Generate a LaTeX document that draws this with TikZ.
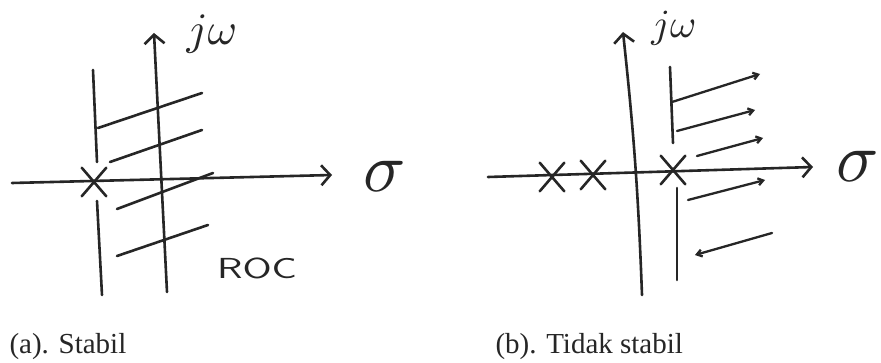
\documentclass[tikz,border=0pt]{standalone}
\usepackage{fontspec}
\setmainfont{Liberation Serif}
\usetikzlibrary{arrows.meta,shapes.misc}
\begin{document}
\begin{tikzpicture}[x=1pt,y=-1pt,line cap=round,line join=round,
  ink/.style={line width=2.6pt,draw=black!85},
  axis/.style={ink,-{Straight Barb[length=9pt,width=20pt]}},
  hatcharrow/.style={ink,line width=2.3pt,-{Straight Barb[length=5pt,width=7pt]}},
  pole/.style={cross out,draw=black!85,line width=2.6pt,minimum width=22pt,minimum height=26pt,inner sep=0pt},
  caption/.style={anchor=base west,font=\fontsize{29}{34}\selectfont,text=black!85},
  hand/.style={text=black!85}]
\useasboundingbox (0,0) rectangle (881,363);
\fill[white] (0,0) rectangle (881,363);
% ---------- (a) ----------
\coordinate (aJb) at (167,292);
\coordinate (aJt) at (154,33);
\coordinate (aSl) at (12,183);
\coordinate (aSr) at (332,175);
\draw[axis] (aJb) -- (aJt);
\draw[axis] (aSl) -- (aSr);
\node[hand,scale=4.5] (aJw) at (212,34) {$j\omega$};
\node[hand,scale=7] (aSig) at (385,176) {$\sigma$};
\node[pole] (aX) at (94,182) {};
\coordinate (aB1) at (93,70);
\coordinate (aB2) at (97,162);
\coordinate (aB3) at (97,201);
\coordinate (aB4) at (102,295);
\draw[ink] (aB1) -- (aB2);
\draw[ink] (aB3) -- (aB4);
\coordinate (aH1a) at (98,128); \coordinate (aH1b) at (202,93);
\coordinate (aH2a) at (110,162); \coordinate (aH2b) at (202,130);
\coordinate (aH3a) at (117,209); \coordinate (aH3b) at (213,173);
\coordinate (aH4a) at (117,256); \coordinate (aH4b) at (208,225);
\draw[ink] (aH1a) -- (aH1b);
\draw[ink] (aH2a) -- (aH2b);
\draw[ink] (aH3a) -- (aH3b);
\draw[ink] (aH4a) -- (aH4b);
\node[hand,xscale=1.45,font=\sffamily\fontsize{29}{29}\selectfont] (aRoc) at (257,268) {ROC};
\node[caption] (capA) at (6,353) {(a). Stabil};
% ---------- (b) ----------
\coordinate (bJb) at (642,295);
\coordinate (bJt) at (623,32);
\coordinate (bSl) at (488,177);
\coordinate (bSr) at (813,167);
\draw[axis] (bJb) to[bend right=2] (bJt);
\draw[axis] (bSl) -- (bSr);
\node[hand,scale=4] (bJw) at (674,28) {$j\omega$};
\node[hand,scale=7,anchor=east,inner xsep=0pt] (bSig) at (880,166) {$\sigma$};
\node[pole] (bX1) at (552,177) {};
\node[pole] (bX2) at (593,175) {};
\node[pole] (bX3) at (673,170) {};
\coordinate (bB1) at (670,67);
\coordinate (bB2) at (673,143);
\coordinate (bB3) at (677,188);
\coordinate (bB4) at (677,280);
\draw[ink] (bB1) -- (bB2);
\draw[ink] (bB3) -- (bB4);
\coordinate (bA1a) at (672,102); \coordinate (bA1b) at (760,74);
\coordinate (bA2a) at (677,131); \coordinate (bA2b) at (755,110);
\coordinate (bA3a) at (697,156); \coordinate (bA3b) at (763,138);
\coordinate (bA4a) at (688,200); \coordinate (bA4b) at (765,180);
\coordinate (bA5a) at (772,233); \coordinate (bA5b) at (695,255);
\draw[hatcharrow] (bA1a) -- (bA1b);
\draw[hatcharrow] (bA2a) -- (bA2b);
\draw[hatcharrow] (bA3a) -- (bA3b);
\draw[hatcharrow] (bA4a) -- (bA4b);
\draw[hatcharrow] (bA5a) -- (bA5b);
\node[caption] (capB) at (492,353) {(b). Tidak stabil};
\end{tikzpicture}
\end{document}
